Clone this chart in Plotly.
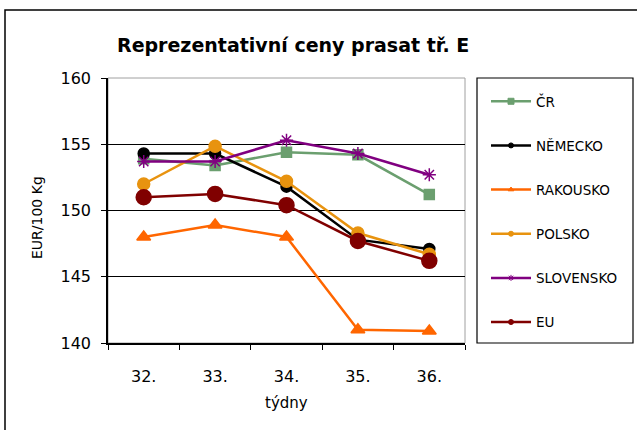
import plotly.graph_objects as go

# data
tydny = ["32.", "33.", "34.", "35.", "36."]

cr = [153.9, 153.4, 154.4, 154.2, 151.2]
nemecko = [154.3, 154.3, 151.8, 147.8, 147.1]
rakousko = [148.0, 148.9, 148.0, 141.0, 140.9]
polsko = [152.0, 154.85, 152.2, 148.3, 146.7]
slovensko = [153.7, 153.7, 155.3, 154.3, 152.7]
eu = [151.0, 151.25, 150.4, 147.7, 146.2]

serie = [
    ("ČR", cr, "#6B9F6F", "square", 10, 6),
    ("NĚMECKO", nemecko, "#000000", "circle", 11, 5),
    ("RAKOUSKO", rakousko, "#FF6600", "triangle-up", 12, 5),
    ("POLSKO", polsko, "#E8930F", "circle", 12, 5),
    ("SLOVENSKO", slovensko, "#800080", "asterisk-open", 11, 5),
    ("EU", eu, "#800000", "circle", 15, 5),
]

FONT = "DejaVu Sans"

fig = go.Figure()
for i, (nazev, hodnoty, barva, znacka, vel, vel_leg) in enumerate(serie):
    fig.add_trace(go.Scatter(
        x=tydny, y=hodnoty, name=nazev, mode="lines+markers",
        showlegend=False,
        line=dict(color=barva, width=2.5),
        marker=dict(symbol=znacka, size=vel, color=barva,
                    line=dict(color=barva, width=1.5)),
    ))
    # legend entry with small marker, like the original
    fig.add_trace(go.Scatter(
        x=[None], y=[None], name=nazev, mode="lines+markers",
        legendgroup=f"g{i}",
        line=dict(color=barva, width=2.5),
        marker=dict(symbol=znacka, size=vel_leg, color=barva,
                    line=dict(color=barva, width=1)),
    ))

# plot area: x 108..465, y 78..343 in px
L, R, T, B = 108, 465, 78, 343
W, H = R - L, B - T


def px_x(p):
    return (p - L) / W


def px_y(p):
    return (B - p) / H


fig.update_layout(
    width=637, height=430,
    margin=dict(l=L, r=637 - R, t=T, b=430 - B, autoexpand=False),
    paper_bgcolor="white", plot_bgcolor="white",
    font=dict(family=FONT, size=16, color="#000000"),
    showlegend=True,
    legend=dict(
        x=px_x(486), y=px_y(86), xanchor="left", yanchor="top",
        bgcolor="rgba(0,0,0,0)", borderwidth=0,
        font=dict(family=FONT, size=13.5, color="#000000"),
        tracegroupgap=23.6, itemwidth=40,
    ),
    xaxis=dict(
        type="category", showgrid=False, showline=True, linecolor="#000000",
        linewidth=1.5, ticks="outside", ticklen=5, tickcolor="#000000",
        tickson="boundaries", ticklabelstandoff=18, range=[-0.5, 4.5],
        tickfont=dict(size=16),
    ),
    yaxis=dict(
        range=[140, 160], dtick=5, showgrid=True, gridcolor="#000000",
        gridwidth=1.2, showline=True, linecolor="#000000", linewidth=1.5,
        ticks="outside", ticklen=5, tickcolor="#000000", zeroline=False,
        ticklabelstandoff=7, tickfont=dict(size=16),
    ),
    shapes=[
        # outer frame
        dict(type="rect", xref="paper", yref="paper",
             x0=px_x(5), x1=px_x(645), y0=px_y(440), y1=px_y(10),
             line=dict(color="#000000", width=1.5), layer="below"),
        # plot area border (top/right)
        dict(type="rect", xref="paper", yref="paper", x0=0, x1=1, y0=0, y1=1,
             line=dict(color="#A0A0A0", width=1), layer="below"),
        # legend box
        dict(type="rect", xref="paper", yref="paper",
             x0=px_x(477), x1=px_x(633), y0=px_y(343), y1=px_y(78),
             line=dict(color="#000000", width=1.2)),
    ],
    annotations=[
        dict(text="<b>Reprezentativní ceny prasat tř. E</b>", xref="paper", yref="paper",
             x=px_x(115), y=px_y(45), xanchor="left", yanchor="middle",
             showarrow=False, font=dict(family=FONT, size=19)),
        dict(text="EUR/100 Kg", xref="paper", yref="paper", textangle=-90,
             x=px_x(37), y=px_y(218), xanchor="center", yanchor="middle",
             showarrow=False, font=dict(family=FONT, size=14)),
        dict(text="týdny", xref="paper", yref="paper",
             x=px_x(286), y=px_y(403), xanchor="center", yanchor="middle",
             showarrow=False, font=dict(family=FONT, size=15)),
    ],
)

# stránka bez okraje body, aby graf začínal v levém horním rohu okna
fig.write_html("out.html", config={"displayModeBar": False},
               post_script="document.body.style.margin = '0';")
